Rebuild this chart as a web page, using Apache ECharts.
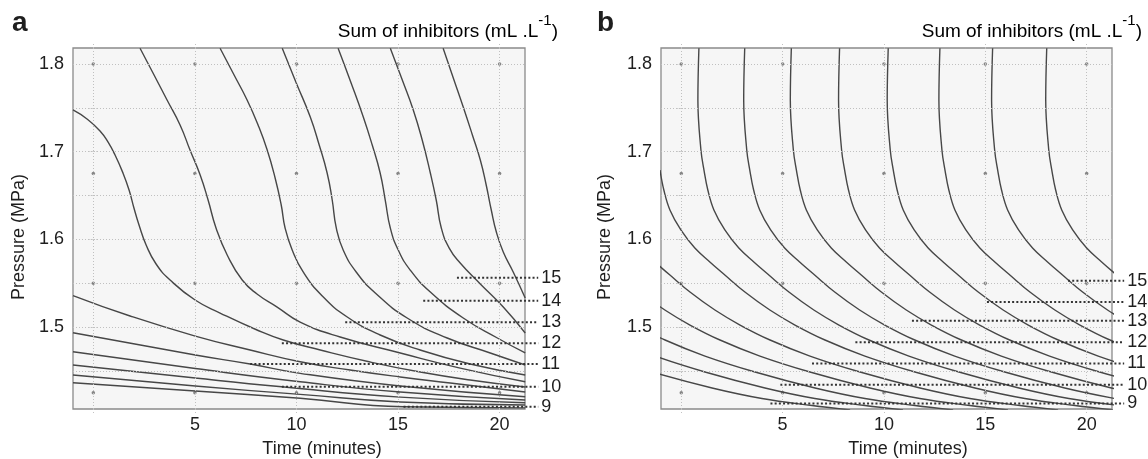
<!DOCTYPE html>
<html><head><meta charset="utf-8">
<script src="https://cdn.jsdelivr.net/npm/echarts@6/dist/echarts.min.js"></script>
<style>html,body{margin:0;padding:0;background:#fff}#c{width:1148px;height:459px}</style>
</head><body><div id="c"></div>
<script>
// ---------------- data ----------------
const timeRange = [-1, 21.25];
const leaderTimeRange = [-1, 22.4];
const pressureRange = [1.4065, 1.8183];
const timeGridLines = [0, 5, 10, 15, 20];
const pressureGridLines = [1.45, 1.5, 1.55, 1.6, 1.65, 1.7, 1.75, 1.8];
const timeTickLabels = [5, 10, 15, 20];
const pressureTickLabels = [1.5, 1.6, 1.7, 1.8];
const designTimes = [0, 5, 10, 15, 20];
const designPressures = [1.425, 1.55, 1.675, 1.8];

const labelLevels = [15, 14, 13, 12, 11, 10, 9];
const aLabelPressure = [1.5563, 1.5300, 1.5054, 1.4814, 1.4578, 1.4319, 1.4091];
const aLabelStartTime = [17.90, 16.24, 12.40, 9.28, 7.72, 9.28, 15.27];
const aLabelEndTime = 21.9;
const bLabelPressure = [1.5528, 1.5285, 1.5072, 1.4826, 1.4584, 1.4342, 1.4128];
const bLabelStartTime = [19.08, 15.08, 11.38, 8.59, 6.45, 4.89, 4.40];
const bLabelEndTime = 21.85;

// panel a contours [time, pressure]
const aC15  = [[17.22,1.818],[17.72,1.7841],[18.21,1.751],[18.66,1.7191],[19.05,1.6905],[19.34,1.662],[19.59,1.6335],[19.84,1.6084],[20.18,1.5856],[20.67,1.5628],[21.26,1.5331]];
const aC145 = [[14.62,1.818],[15.21,1.7818],[15.75,1.7476],[16.19,1.7133],[16.59,1.6757],[16.88,1.6449],[17.13,1.613],[17.52,1.5901],[18.06,1.573],[19.05,1.5491],[20.18,1.5228],[21.26,1.4932]];
const aC14  = [[12.05,1.818],[12.69,1.7784],[13.29,1.7396],[13.73,1.7076],[14.12,1.6757],[14.37,1.6449],[14.62,1.613],[15.01,1.5879],[15.60,1.565],[16.59,1.5399],[18.21,1.5103],[19.89,1.4875],[21.26,1.4704]];
const aC135 = [[9.30,1.818],[9.99,1.7784],[10.68,1.7396],[11.12,1.7076],[11.51,1.6757],[11.76,1.6449],[11.96,1.613],[12.30,1.5879],[12.94,1.5628],[13.88,1.5388],[15.45,1.5103],[17.42,1.4875],[19.54,1.4704],[21.26,1.4567]];
const aC13  = [[6.24,1.818],[6.93,1.7875],[7.57,1.759],[8.11,1.7305],[8.56,1.7019],[8.95,1.67],[9.25,1.6392],[9.44,1.613],[9.79,1.5879],[10.33,1.5628],[11.27,1.5354],[12.50,1.5114],[14.12,1.4909],[16.09,1.4738],[18.55,1.4578],[21.26,1.4453]];
const aC125 = [[2.30,1.818],[2.99,1.7875],[3.63,1.759],[4.27,1.7305],[4.76,1.7019],[5.26,1.6734],[5.65,1.6449],[6.04,1.613],[6.59,1.5822],[7.33,1.5536],[8.06,1.5377],[9.05,1.5228],[10.18,1.5057],[12.15,1.4886],[15.11,1.4704],[18.06,1.4532],[21.26,1.4376]];
const aC12  = [[-1.0,1.7476],[-0.31,1.7373],[0.33,1.7236],[0.72,1.7111],[1.07,1.6962],[1.46,1.6757],[1.76,1.6563],[2.00,1.6358],[2.25,1.6164],[2.60,1.5936],[3.09,1.5719],[3.78,1.5536],[5.01,1.5308],[6.24,1.516],[8.06,1.4966],[9.35,1.4852],[11.17,1.4738],[13.63,1.4601],[16.09,1.4487],[18.55,1.4396],[21.26,1.4316]];
const aC115 = [[-1.0,1.5359],[1.81,1.5126],[5.02,1.4897],[7.72,1.4738],[10.18,1.4604],[12.64,1.451],[15.11,1.443],[17.57,1.4361],[21.26,1.4259]];
const aC11  = [[-1.0,1.4935],[5.02,1.4681],[7.72,1.4578],[10.18,1.4472],[15.11,1.4327],[21.26,1.4205]];
const aC105 = [[-1.0,1.4718],[5.02,1.4527],[10.18,1.4376],[15.11,1.4259],[21.26,1.4167]];
const aC10  = [[-1.0,1.4567],[5.02,1.4418],[9.28,1.4319],[15.11,1.4200],[21.26,1.4136]];
const aC95  = [[-1.0,1.4453],[5.02,1.4327],[10.18,1.4232],[15.11,1.4145],[21.26,1.411]];
const aC9   = [[-1.0,1.4365],[5.02,1.427],[10.18,1.4187],[15.27,1.4091],[21.26,1.4078]];

// panel b contours [time, pressure]
const bC155 = [[18.03,1.818],[17.98,1.759],[18.13,1.7019],[18.28,1.6791],[18.47,1.6563],[18.77,1.6335],[19.31,1.6107],[20.00,1.5901],[20.74,1.5742],[21.48,1.5593]];
const bC15  = [[15.36,1.818],[15.31,1.759],[15.46,1.7019],[15.61,1.6791],[15.80,1.6563],[16.10,1.6335],[16.64,1.6107],[17.33,1.5901],[18.07,1.5742],[18.81,1.5593],[19.80,1.5399],[21.03,1.5194],[22.27,1.5023]];
const bC145 = [[12.76,1.818],[12.71,1.759],[12.86,1.7019],[13.01,1.6791],[13.20,1.6563],[13.50,1.6335],[14.04,1.6107],[14.73,1.5901],[15.47,1.5742],[16.21,1.5593],[17.20,1.5399],[18.43,1.5194],[19.67,1.5023],[21.15,1.4852],[23.12,1.4669]];
const bC14  = [[10.21,1.818],[10.16,1.759],[10.31,1.7019],[10.46,1.6791],[10.65,1.6563],[10.95,1.6335],[11.49,1.6107],[12.18,1.5901],[12.92,1.5742],[13.66,1.5593],[14.65,1.5399],[15.88,1.5194],[17.12,1.5023],[18.60,1.4852],[20.57,1.4669],[23.04,1.4487]];
const bC135 = [[7.81,1.818],[7.76,1.759],[7.91,1.7019],[8.06,1.6791],[8.25,1.6563],[8.55,1.6335],[9.09,1.6107],[9.78,1.5901],[10.52,1.5742],[11.26,1.5593],[12.25,1.5399],[13.48,1.5194],[14.72,1.5023],[16.20,1.4852],[18.17,1.4669],[20.64,1.4487],[23.60,1.4305]];
const bC13  = [[5.43,1.818],[5.38,1.759],[5.53,1.7019],[5.68,1.6791],[5.87,1.6563],[6.17,1.6335],[6.71,1.6107],[7.40,1.5901],[8.14,1.5742],[8.88,1.5593],[9.87,1.5399],[11.10,1.5194],[12.34,1.5023],[13.82,1.4852],[15.79,1.4669],[18.26,1.4487],[21.22,1.4305],[23.68,1.4185]];
const bC125 = [[3.13,1.818],[3.08,1.759],[3.23,1.7019],[3.38,1.6791],[3.57,1.6563],[3.87,1.6335],[4.41,1.6107],[5.10,1.5901],[5.84,1.5742],[6.58,1.5593],[7.57,1.5399],[8.80,1.5194],[10.04,1.5023],[11.52,1.4852],[13.49,1.4669],[15.96,1.4487],[18.92,1.4305],[21.38,1.4185]];
const bC12  = [[0.87,1.818],[0.82,1.759],[0.97,1.7019],[1.12,1.6791],[1.31,1.6563],[1.61,1.6335],[2.15,1.6107],[2.84,1.5901],[3.58,1.5742],[4.32,1.5593],[5.31,1.5399],[6.54,1.5194],[7.78,1.5023],[9.26,1.4852],[11.23,1.4669],[13.70,1.4487],[16.66,1.4305],[19.12,1.4185],[21.59,1.4105]];
const bC115 = [[-1.05,1.6791],[-0.86,1.6563],[-0.56,1.6335],[-0.02,1.6107],[0.67,1.5901],[1.41,1.5742],[2.15,1.5593],[3.14,1.5399],[4.37,1.5194],[5.61,1.5023],[7.09,1.4852],[9.06,1.4669],[11.53,1.4487],[14.49,1.4305],[16.95,1.4185],[19.42,1.4105],[21.30,1.4055]];
const bC11  = [[-1.30,1.5742],[-0.56,1.5593],[0.43,1.5399],[1.66,1.5194],[2.90,1.5023],[4.38,1.4852],[6.35,1.4669],[8.82,1.4487],[11.78,1.4305],[14.24,1.4185],[16.71,1.4105],[18.59,1.4055]];
const bC105 = [[-2.04,1.5399],[-0.81,1.5194],[0.43,1.5023],[1.91,1.4852],[3.88,1.4669],[6.35,1.4487],[9.31,1.4305],[11.77,1.4185],[14.24,1.4105],[16.12,1.4055]];
const bC10  = [[-2.28,1.5023],[-0.80,1.4852],[1.17,1.4669],[3.64,1.4487],[6.60,1.4305],[9.06,1.4185],[11.53,1.4105],[13.41,1.4055]];
const bC95  = [[-3.27,1.4852],[-1.30,1.4669],[1.17,1.4487],[4.13,1.4305],[6.59,1.4185],[9.06,1.4105],[10.94,1.4055]];
const bC9   = [[-3.91,1.4669],[-1.44,1.4487],[1.52,1.4305],[3.98,1.4185],[6.45,1.4105],[8.33,1.4055]];

const aContours = [aC15, aC145, aC14, aC135, aC13, aC125, aC12, aC115, aC11, aC105, aC10, aC95, aC9];
const bContours = [bC155, bC15, bC145, bC14, bC135, bC13, bC125, bC12, bC115, bC11, bC105, bC10, bC95, bC9];

// ---------------- chart ----------------
const FONT = "'Liberation Sans', Arial, Helvetica, sans-serif";
const TXT = '#1e1e1e';
const chart = echarts.init(document.getElementById('c'), null, {renderer: 'canvas'});

const pxPerUnitA = 452 / (timeRange[1] - timeRange[0]);
const pxPerUnitB = 451 / (timeRange[1] - timeRange[0]);
const gridDefs = [
  {left: 73, top: 48, width: 452, height: 361, show: true, backgroundColor: '#f6f6f6', borderColor: '#8a8a8a', borderWidth: 1.3},
  {left: 661, top: 48, width: 451, height: 361, show: true, backgroundColor: '#f6f6f6', borderColor: '#8a8a8a', borderWidth: 1.3},
  // leader-line grids: same scale, extended to the right of the plot box
  {left: 73, top: 48, width: pxPerUnitA * (leaderTimeRange[1] - leaderTimeRange[0]), height: 361, show: false},
  {left: 661, top: 48, width: pxPerUnitB * (leaderTimeRange[1] - leaderTimeRange[0]), height: 361, show: false}
];

const stubTick = {show: true, length: 4, lineStyle: {color: '#c2c2c2', type: [1, 2]}};
function xAxisFor(i, pos) {
  const main = pos === 'bottom';
  return {
    type: 'value', gridIndex: i, position: pos, min: timeRange[0], max: timeRange[1],
    axisLine: {show: false},
    axisTick: Object.assign({customValues: timeGridLines}, stubTick),
    axisLabel: main ? {customValues: timeTickLabels, fontSize: 18, fontFamily: FONT, color: TXT, margin: 7}
                    : {show: false},
    splitLine: {show: false}
  };
}
function yAxisFor(i, pos) {
  const main = pos === 'left';
  return {
    type: 'value', gridIndex: i, position: pos, min: pressureRange[0], max: pressureRange[1],
    axisLine: {show: false},
    axisTick: Object.assign({customValues: pressureGridLines}, stubTick),
    axisLabel: main ? {customValues: pressureTickLabels, fontSize: 18, fontFamily: FONT, color: TXT, margin: 9,
      formatter: v => v.toFixed(1)} : {show: false},
    splitLine: {show: false}
  };
}
const hiddenX = i => ({type: 'value', gridIndex: i, min: leaderTimeRange[0], max: leaderTimeRange[1], show: false});
const hiddenY = i => ({type: 'value', gridIndex: i, min: pressureRange[0], max: pressureRange[1], show: false});

const series = [];
[0, 1].forEach(i => {
  const pts = [];
  designTimes.forEach(t => designPressures.forEach(p => pts.push([t, p])));
  series.push({
    type: 'scatter', xAxisIndex: i, yAxisIndex: i, data: pts, symbolSize: 3.5,
    itemStyle: {color: '#6a6a6a'}, silent: true, z: 1,
    markLine: {
      silent: true, symbol: 'none', label: {show: false},
      lineStyle: {color: '#c0c0c0', type: [1, 2], width: 1},
      data: timeGridLines.map(v => ({xAxis: v})).concat(pressureGridLines.map(v => ({yAxis: v})))
    }
  });
});

function addContours(list, idx, sm) {
  list.forEach(d => series.push({
    type: 'line', xAxisIndex: idx, yAxisIndex: idx, data: d, showSymbol: false, smooth: sm,
    lineStyle: {color: '#474747', width: 1.4}, silent: true, z: 3
  }));
}
addContours(aContours, 0, 0.5);
addContours(bContours, 1, 0.4);

function addLeaders(pres, starts, endT, idx) {
  labelLevels.forEach((lv, k) => series.push({
    type: 'line', xAxisIndex: idx, yAxisIndex: idx, showSymbol: false, silent: true, z: 4,
    data: [[starts[k], pres[k]], [endT, pres[k]]],
    lineStyle: {color: '#333', width: 2, type: [2, 2.2]},
    endLabel: {show: true, formatter: String(lv), fontSize: 18, fontFamily: FONT, color: TXT, distance: 3}
  }));
}
addLeaders(aLabelPressure, aLabelStartTime, aLabelEndTime, 4);
addLeaders(bLabelPressure, bLabelStartTime, bLabelEndTime, 5);

function titleText(x, y, txt, opts) {
  return {type: 'text', x: x, y: y, silent: true,
    style: Object.assign({text: txt, fontFamily: FONT, fill: TXT, fontSize: 18}, opts || {})};
}
const sumRich = {
  m: {fontSize: 19, fontFamily: FONT, color: TXT, lineHeight: 28, verticalAlign: 'bottom'},
  s: {fontSize: 15, fontFamily: FONT, color: TXT, lineHeight: 15, verticalAlign: 'top'}
};
const sumText = '{m|Sum of inhibitors (mL .L}{s|-1}{m|)}';
const graphics = [
  titleText(12, 37, 'a', {fontSize: 28, fontWeight: 'bold', verticalAlign: 'bottom', textVerticalAlign: 'bottom'}),
  titleText(597, 37, 'b', {fontSize: 28, fontWeight: 'bold', verticalAlign: 'bottom', textVerticalAlign: 'bottom'}),
  {type: 'text', x: 558, y: 41, silent: true, style: {text: sumText, rich: sumRich,
     align: 'right', textAlign: 'right', verticalAlign: 'bottom', textVerticalAlign: 'bottom'}},
  {type: 'text', x: 1142, y: 41, silent: true, style: {text: sumText, rich: sumRich,
     align: 'right', textAlign: 'right', verticalAlign: 'bottom', textVerticalAlign: 'bottom'}},
  Object.assign(titleText(19, 237, 'Pressure (MPa)', {align: 'center', textAlign: 'center', verticalAlign: 'middle', textVerticalAlign: 'middle'}), {rotation: Math.PI / 2}),
  Object.assign(titleText(605, 237, 'Pressure (MPa)', {align: 'center', textAlign: 'center', verticalAlign: 'middle', textVerticalAlign: 'middle'}), {rotation: Math.PI / 2}),
  titleText(322, 449, 'Time (minutes)', {align: 'center', textAlign: 'center', verticalAlign: 'middle', textVerticalAlign: 'middle'}),
  titleText(908, 449, 'Time (minutes)', {align: 'center', textAlign: 'center', verticalAlign: 'middle', textVerticalAlign: 'middle'})
];

chart.setOption({
  animation: false,
  backgroundColor: '#ffffff',
  grid: gridDefs,
  // axes 0/1: bottom+left of each panel; 2/3: top+right tick stubs; 4/5: leader grids
  xAxis: [xAxisFor(0, 'bottom'), xAxisFor(1, 'bottom'), xAxisFor(0, 'top'), xAxisFor(1, 'top'), hiddenX(2), hiddenX(3)],
  yAxis: [yAxisFor(0, 'left'), yAxisFor(1, 'left'), yAxisFor(0, 'right'), yAxisFor(1, 'right'), hiddenY(2), hiddenY(3)],
  series: series,
  graphic: graphics
});
</script>
</body></html>
